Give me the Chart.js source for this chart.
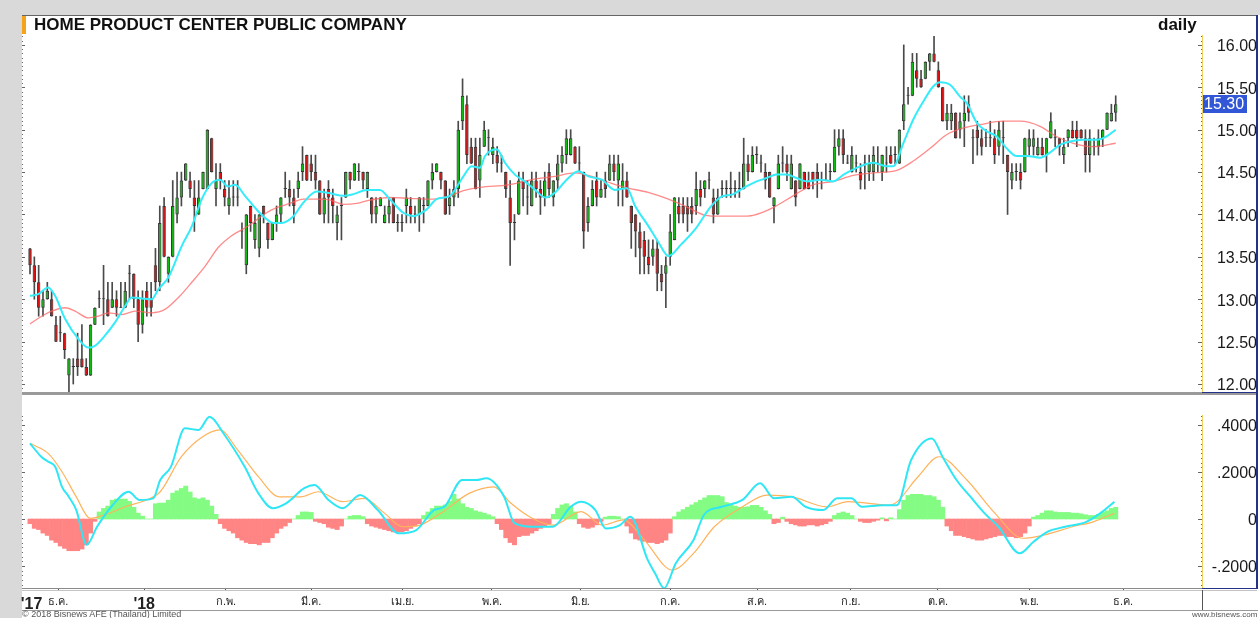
<!DOCTYPE html>
<html>
<head>
<meta charset="utf-8">
<script src="https://cdn.jsdelivr.net/npm/chart.js@4.4.0/dist/chart.umd.min.js"></script>
<style>
body { margin:0; background:#fff; font-family:"Liberation Sans", Arial, sans-serif; }
#page { position:relative; width:1260px; height:618px; overflow:hidden; background:#fff; }
.abs { position:absolute; }
</style>
</head>
<body>
<div id="page">
  <div class="abs" style="left:0;top:0;width:1260px;height:15px;background:#d9d9d9"></div>
  <div class="abs" style="left:0;top:0;width:22px;height:618px;background:#d9d9d9"></div>
  <div class="abs" style="left:22px;top:15px;width:1236px;height:1px;background:#666"></div>

  <canvas id="priceChart" class="abs" style="left:0;top:16px" width="1260" height="376"></canvas>
  <canvas id="macdChart" class="abs" style="left:0;top:396px" width="1260" height="214"></canvas>

  <!-- frame lines -->
  <div class="abs" style="left:22px;top:392px;width:1235px;height:3px;background:#9a9a9a"></div>
  <div class="abs" style="left:1202px;top:392px;width:55px;height:1px;background:#24318a"></div>
  <div class="abs" style="left:22px;top:588px;width:1235px;height:1px;background:#8a8a8a"></div>
  <div class="abs" style="left:22px;top:590px;width:1235px;height:1px;background:#c4c4c4"></div>
  <div class="abs" style="left:1202px;top:588px;width:55px;height:1px;background:#24318a"></div>
  <div class="abs" style="left:22px;top:610px;width:1236px;height:1px;background:#9a9a9a"></div>
  <div class="abs" style="left:1202px;top:590px;width:1px;height:20px;background:#555"></div>
  <div class="abs" style="left:1256px;top:15px;width:2px;height:574px;background:#24318a"></div>

  <div class="abs" style="left:22px;top:16px;width:4px;height:18px;background:#f5a31a"></div>
  <div class="abs" style="left:34px;top:16px;font-weight:bold;font-size:17px;line-height:17px;color:#111">HOME PRODUCT CENTER PUBLIC COMPANY</div>
  <div class="abs" style="left:1158px;top:16px;font-weight:bold;font-size:17px;line-height:17px;color:#111">daily</div>

  <div class="abs" style="left:22px;top:610px;font-size:9px;line-height:9px;color:#555">© 2018 Bisnews AFE (Thailand) Limited</div>
  <div class="abs" style="left:1192px;top:611px;font-size:8px;line-height:8px;color:#555">www.bisnews.com</div>
</div>

<script>
// daily candles, Nov 2017 - Nov 2018
const opens = [
  13.6,13.4,13.2,12.9,13.0,13.0,12.7,12.6,12.6,12.1,
  12.2,12.3,12.3,12.2,12.1,12.7,13.0,13.0,13.0,12.9,
  13.0,12.9,12.9,13.3,13.3,13.0,12.7,13.1,13.0,13.4,
  13.2,14.1,13.3,13.5,14.0,14.2,14.4,14.4,14.2,14.0,
  14.3,14.3,14.9,14.3,14.5,14.3,14.1,14.2,14.2,13.8,
  13.4,14.1,13.7,13.6,14.1,13.9,13.7,13.9,14.0,14.3,
  14.3,14.2,14.3,14.5,14.7,14.6,14.5,14.4,14.0,14.3,
  14.2,13.9,14.1,14.2,14.5,14.4,14.5,14.5,14.3,14.2,
  14.0,14.1,13.9,14.0,14.2,13.9,13.9,14.1,14.1,14.0,
  14.0,14.1,14.1,14.4,14.5,14.5,14.4,14.1,14.2,14.3,
  15.1,15.3,14.8,14.8,14.4,14.8,14.9,14.7,14.7,14.6,
  14.5,14.2,13.9,14.0,14.4,14.2,14.1,14.4,14.3,14.2,
  14.5,14.2,14.4,14.6,14.7,14.7,14.8,14.6,14.5,13.9,
  14.1,14.4,14.2,14.4,14.4,14.6,14.4,14.3,14.4,14.1,
  14.0,13.8,13.7,13.5,13.5,13.6,13.3,13.3,13.5,13.7,
  14.1,14.1,14.1,14.1,14.1,14.3,14.3,14.4,14.2,14.0,
  14.3,14.3,14.3,14.3,14.3,14.3,14.6,14.5,14.7,14.6,
  14.5,14.5,14.1,14.3,14.6,14.6,14.3,14.4,14.3,14.5,
  14.4,14.5,14.5,14.4,14.4,14.5,14.5,14.8,14.9,14.6,
  14.5,14.6,14.5,14.6,14.5,14.5,14.6,14.5,14.6,14.7,
  14.7,14.6,15.1,15.4,15.4,15.7,15.6,15.6,15.8,15.9,
  15.7,15.5,15.1,15.1,15.2,15.0,15.1,15.3,14.9,15.0,
  14.9,14.9,14.9,14.9,14.8,14.9,14.7,14.4,14.5,14.5,
  14.5,14.8,14.8,14.7,14.8,14.7,14.9,14.9,14.9,14.7,
  14.9,15.0,15.0,15.0,14.9,14.7,14.8,14.8,14.9,15.0,
  15.1,15.2
];
const highs = [
  13.6,13.5,13.4,13.1,13.2,13.1,12.8,12.8,12.6,12.3,
  12.3,12.6,12.7,12.3,12.7,12.9,13.1,13.4,13.2,13.2,
  13.1,13.2,13.2,13.4,13.3,13.1,13.1,13.2,13.2,13.6,
  14.1,14.2,13.5,14.4,14.5,14.5,14.6,14.5,14.4,14.4,
  14.5,15.0,14.9,14.6,14.6,14.4,14.4,14.4,14.4,13.9,
  14.0,14.1,14.0,14.0,14.1,13.9,13.9,14.1,14.2,14.5,
  14.4,14.3,14.5,14.8,14.7,14.7,14.7,14.4,14.3,14.4,
  14.3,14.1,14.2,14.5,14.5,14.6,14.6,14.5,14.5,14.2,
  14.2,14.2,14.1,14.2,14.2,14.0,14.0,14.3,14.2,14.1,
  14.2,14.2,14.4,14.6,14.6,14.5,14.4,14.3,14.4,15.1,
  15.6,15.4,14.9,14.9,14.9,15.1,15.0,14.9,14.8,14.7,
  14.5,14.4,14.0,14.5,14.5,14.4,14.5,14.5,14.4,14.5,
  14.6,14.4,14.7,14.8,15.0,15.0,14.8,14.8,14.5,14.2,
  14.4,14.5,14.4,14.5,14.7,14.7,14.7,14.6,14.5,14.1,
  14.0,13.9,13.8,13.7,13.7,13.7,13.4,13.5,14.0,14.2,
  14.2,14.2,14.2,14.2,14.5,14.4,14.4,14.5,14.3,14.3,
  14.4,14.4,14.5,14.4,14.5,14.9,14.7,14.8,14.8,14.7,
  14.6,14.5,14.2,14.7,14.8,14.7,14.7,14.4,14.6,14.5,
  14.5,14.5,14.6,14.5,14.6,14.6,15.0,15.0,15.0,14.7,
  14.8,14.7,14.6,14.7,14.7,14.8,14.8,14.7,14.8,14.8,
  14.8,15.0,16.0,15.5,15.9,15.9,15.7,15.8,15.9,16.1,
  15.8,15.5,15.3,15.3,15.2,15.2,15.4,15.4,15.0,15.1,
  15.0,15.0,15.1,15.0,15.1,15.1,14.7,14.6,14.6,14.6,
  14.9,15.0,15.0,14.9,14.9,14.9,15.2,15.0,14.9,14.9,
  15.0,15.1,15.1,15.0,15.0,15.0,14.9,15.0,15.0,15.2,
  15.3,15.4
];
const lows = [
  13.3,13.0,12.8,12.8,13.0,12.8,12.5,12.5,12.3,11.9,
  12.0,12.1,12.2,12.1,12.1,12.7,12.9,12.7,12.8,12.9,
  12.8,12.9,12.9,13.0,12.9,12.5,12.6,12.8,12.8,13.1,
  13.1,13.5,13.2,13.5,13.9,14.1,14.4,14.2,13.8,14.0,
  14.3,14.3,14.5,14.1,14.3,14.1,14.0,14.1,14.1,13.6,
  13.3,13.8,13.6,13.5,13.9,13.6,13.7,13.8,13.9,14.2,
  14.1,13.9,14.2,14.4,14.4,14.4,14.3,14.0,13.9,13.9,
  13.9,13.7,13.7,14.2,14.3,14.4,14.4,14.3,14.2,13.9,
  13.9,14.1,13.9,13.9,13.9,13.8,13.8,13.9,13.9,13.9,
  13.8,13.9,14.1,14.3,14.5,14.3,14.0,14.0,14.1,14.2,
  15.0,14.6,14.6,14.3,14.2,14.8,14.7,14.6,14.5,14.5,
  14.2,13.4,13.7,14.0,14.1,14.0,14.1,14.2,14.0,14.1,
  14.2,14.1,14.3,14.5,14.6,14.7,14.6,14.5,13.6,13.8,
  14.1,14.1,14.2,14.2,14.4,14.4,14.1,14.1,14.2,13.6,
  13.5,13.3,13.3,13.3,13.4,13.1,13.1,12.9,13.4,13.7,
  13.9,13.9,13.8,13.9,14.0,14.1,14.2,14.3,13.9,14.0,
  14.2,14.2,14.2,14.2,14.2,14.3,14.4,14.5,14.6,14.5,
  14.3,14.2,13.9,14.3,14.5,14.4,14.3,14.1,14.3,14.3,
  14.3,14.3,14.2,14.3,14.4,14.4,14.5,14.7,14.6,14.6,
  14.5,14.5,14.3,14.3,14.4,14.4,14.5,14.4,14.5,14.6,
  14.6,14.6,15.0,15.3,15.4,15.5,15.5,15.6,15.7,15.8,
  15.5,15.1,15.0,15.0,14.9,14.9,14.8,15.1,14.6,14.7,
  14.7,14.8,14.8,14.6,14.7,14.6,14.0,14.3,14.4,14.3,
  14.5,14.7,14.7,14.7,14.7,14.5,14.9,14.8,14.7,14.6,
  14.8,14.9,14.8,14.9,14.5,14.5,14.7,14.7,14.8,15.0,
  15.1,15.1
];
const closes = [
  13.4,13.2,12.9,13.0,13.1,12.8,12.5,12.6,12.4,12.3,
  12.2,12.2,12.2,12.1,12.7,12.9,13.0,13.0,12.8,13.0,
  12.9,12.9,13.1,13.3,13.0,12.7,13.0,12.9,12.9,13.2,
  13.9,13.5,13.5,14.1,14.2,14.4,14.6,14.3,14.1,14.2,
  14.5,15.0,14.5,14.4,14.4,14.2,14.2,14.2,14.2,13.8,
  14.0,13.9,13.9,14.0,14.0,13.7,13.9,14.0,14.2,14.3,
  14.2,14.1,14.4,14.6,14.4,14.5,14.4,14.0,14.2,14.2,
  14.1,14.0,14.1,14.5,14.4,14.6,14.5,14.4,14.5,14.0,
  14.1,14.2,14.0,14.1,13.9,13.9,13.9,14.2,14.0,14.0,
  14.2,14.1,14.4,14.5,14.6,14.4,14.0,14.2,14.3,15.0,
  15.4,14.7,14.6,14.3,14.7,15.0,14.9,14.8,14.6,14.6,
  14.3,13.9,13.9,14.4,14.3,14.2,14.4,14.3,14.2,14.4,
  14.3,14.4,14.6,14.7,14.9,14.9,14.6,14.6,13.8,14.1,
  14.3,14.2,14.3,14.3,14.6,14.5,14.6,14.4,14.2,13.9,
  13.8,13.6,13.5,13.4,13.6,13.3,13.2,13.4,13.8,14.2,
  14.0,14.0,14.0,14.0,14.3,14.2,14.4,14.4,14.0,14.2,
  14.3,14.3,14.3,14.3,14.3,14.6,14.5,14.7,14.7,14.6,
  14.4,14.2,14.2,14.6,14.6,14.5,14.6,14.2,14.6,14.3,
  14.3,14.4,14.4,14.4,14.4,14.5,14.8,14.9,14.7,14.6,
  14.7,14.6,14.4,14.6,14.6,14.7,14.6,14.7,14.6,14.6,
  14.7,15.0,15.3,15.4,15.8,15.6,15.5,15.8,15.9,15.8,
  15.5,15.1,15.2,15.2,14.9,15.1,15.2,15.2,14.9,14.9,
  14.8,14.9,14.9,14.7,15.0,14.9,14.5,14.5,14.5,14.4,
  14.9,14.9,14.9,14.8,14.7,14.9,15.1,14.9,14.8,14.8,
  15.0,14.9,14.9,14.9,14.7,14.9,14.8,14.9,15.0,15.2,
  15.2,15.3
];

// moving averages (x = candle index)
const fastMaIdx = [0,1.9,4.2,5.8,8.1,11.2,13.5,15,17.3,19.7,22,23.5,25.8,28.1,29.7,32,35.1,37.4,39.7,42,43.9,45.8,47.4,49.7,52,53.9,56.3,58.2,60.9,63.2,66.3,69.4,72.4,74.8,77.9,80.9,83.2,86.3,88.6,91.7,94,97.1,100.2,102.1,104,105.2,107.9,109.8,112.1,114.4,116.8,119.1,121.4,123.7,126.8,129.1,132.2,135.2,138,139.9,143,145.3,147.6,150.6,153.7,156.1,157.2,159.5,162.6,164.9,168,170.3,172.6,174.9,177.2,179.6,182.7,185.7,188.1,191.1,195,198,199.6,201.9,204.2,206.5,208.8,210.4,212.7,215,216.6,218.9,221.2,223.5,225.8,228.1,230.4,233.5,235.8,238.1,240.4,243.5,246.6,248.9,251];
const fastMaVal = [13.04,13.06,13.14,13.04,12.77,12.53,12.43,12.45,12.57,12.73,12.92,13.02,13.01,13.0,13.12,13.26,13.63,13.86,14.18,14.37,14.41,14.33,14.35,14.22,14.08,13.98,13.9,13.9,13.98,14.14,14.27,14.25,14.22,14.24,14.29,14.29,14.18,14.02,13.98,14.06,14.18,14.22,14.45,14.57,14.55,14.69,14.77,14.61,14.47,14.39,14.29,14.2,14.26,14.39,14.51,14.45,14.41,14.29,14.31,14.1,13.86,13.67,13.51,13.65,13.82,14.0,14.08,14.2,14.24,14.31,14.39,14.43,14.47,14.47,14.43,14.39,14.41,14.39,14.47,14.55,14.61,14.57,14.57,14.84,15.12,15.33,15.51,15.56,15.53,15.39,15.31,15.08,14.98,14.92,14.78,14.69,14.69,14.67,14.73,14.82,14.86,14.88,14.88,14.92,15.0];
const slowMaIdx = [0,2.7,5,8.1,10.4,13.5,15.8,18.1,21.2,24.3,28.1,31.2,34.3,37.4,40.5,43.5,46.6,49.7,52,54,57,60.1,63.2,66.3,69.4,72.4,75.5,78.6,83.2,87.8,92.5,97.1,100.2,104,110.6,116,121.4,126,129.1,133.7,137.5,142.9,147.6,152.2,156.1,159.5,164.1,167.2,171.8,176.4,181,185.7,190.3,195,200.4,204.2,208.1,211.9,215.8,219.6,225,228.9,233.5,237.3,241.2,245.8,251];
const slowMaVal = [12.71,12.8,12.86,12.9,12.86,12.78,12.8,12.84,12.82,12.86,12.84,12.88,13.02,13.2,13.39,13.61,13.75,13.84,13.92,14.0,14.08,14.13,14.18,14.18,14.17,14.12,14.13,14.17,14.2,14.19,14.18,14.22,14.28,14.32,14.35,14.41,14.45,14.49,14.46,14.38,14.32,14.26,14.18,14.08,13.99,13.98,13.98,13.99,14.08,14.22,14.35,14.39,14.46,14.49,14.52,14.63,14.78,14.94,15.02,15.06,15.1,15.1,15.04,14.92,14.84,14.8,14.84];

// MACD panel
const macdIdx = [0,2.6,4.2,5.8,7.4,9.0,10.7,13.1,15.5,18.8,22.8,25.3,28.5,30.1,32.6,35.8,39,41.5,44.7,49.6,52.8,56.1,59.3,63.4,65.8,69,72.3,76.3,80.4,85.3,89.3,93.4,95.8,99.9,103.1,105.5,109.6,112,116.1,120.9,125,127.4,130.7,133.1,136.4,138.8,142.8,144.5,146.6,149.3,153.4,155.8,159.9,164.7,168.8,172,176.1,179.3,183.4,186.6,189.9,192.3,197.2,200.4,203.7,208.5,211,214.2,217.4,220.7,223.9,228.8,232,235.3,239.3,244.2,247.4,250.7];
const macdVal = [0.322,0.265,0.244,0.223,0.137,0.094,0.038,-0.11,-0.033,0.052,0.116,0.081,0.088,0.166,0.223,0.386,0.379,0.435,0.365,0.223,0.109,0.046,0.068,0.131,0.145,0.081,0.046,0.102,0.038,-0.061,-0.047,0.038,0.052,0.166,0.166,0.173,0.095,-0.018,-0.033,-0.033,0.052,0.073,0.038,-0.04,-0.026,0.01,-0.174,-0.231,-0.295,-0.188,-0.089,0.017,0.052,0.081,0.152,0.088,0.095,0.052,0.038,0.088,0.088,0.052,0.059,0.059,0.251,0.343,0.264,0.166,0.095,0.024,-0.033,-0.146,-0.097,-0.054,-0.033,-0.012,0.024,0.073];
const signalIdx = [0,4.2,7.4,10.7,13.9,17.2,22,26.9,30.1,35,39.9,43.9,48,52.8,57.7,62.6,66.6,72.3,77.2,82,86.1,90.1,95,101.5,107.2,111.2,116.1,120.9,127.4,132.3,137.2,142,148.5,153.4,158.2,164.7,170.4,176.1,184.2,189.1,198.8,205.3,210.1,216.6,223.1,229.6,234.5,241,245.8,250.7];
const signalVal = [0.322,0.279,0.201,0.094,0.003,0.017,0.052,0.081,0.116,0.265,0.35,0.379,0.294,0.18,0.094,0.094,0.116,0.074,0.088,0.024,-0.033,-0.026,0.024,0.109,0.137,0.067,0.003,-0.026,0.031,-0.026,-0.004,-0.089,-0.217,-0.146,-0.033,0.052,0.102,0.095,0.052,0.074,0.059,0.18,0.265,0.166,0.024,-0.082,-0.068,-0.033,-0.012,0.024];
const histVal = [
  -0.02,-0.04,-0.045,-0.06,-0.07,-0.09,-0.1,-0.115,-0.125,-0.135,
  -0.135,-0.135,-0.128,-0.11,-0.06,-0.01,0.03,0.045,0.055,0.08,
  0.085,0.085,0.085,0.075,0.05,0.025,0.012,0,0,0.065,
  0.068,0.068,0.08,0.11,0.12,0.13,0.14,0.115,0.09,0.085,
  0.09,0.08,0.055,0.02,-0.02,-0.04,-0.05,-0.06,-0.08,-0.09,
  -0.1,-0.105,-0.105,-0.11,-0.1,-0.1,-0.08,-0.06,-0.04,-0.03,
  -0.015,0,0.015,0.03,0.03,0.028,-0.01,-0.015,-0.02,-0.035,
  -0.04,-0.045,-0.03,0,0.012,0.015,0.015,0.01,-0.02,-0.03,
  -0.035,-0.04,-0.045,-0.05,-0.055,-0.055,-0.055,-0.05,-0.04,-0.03,
  -0.02,0.015,0.03,0.045,0.055,0.055,0.06,0.075,0.105,0.085,
  0.065,0.05,0.045,0.035,0.03,0.025,0.018,0.01,-0.02,-0.045,
  -0.08,-0.1,-0.11,-0.075,-0.07,-0.07,-0.06,-0.05,-0.04,-0.03,
  -0.02,0.02,0.045,0.06,0.065,0.055,0.03,-0.02,-0.035,-0.04,
  -0.035,-0.025,-0.01,0.008,0.012,0.012,0.01,0,-0.03,-0.06,
  -0.085,-0.09,-0.095,-0.1,-0.1,-0.105,-0.1,-0.09,-0.06,0.01,
  0.03,0.04,0.05,0.06,0.07,0.08,0.09,0.1,0.1,0.1,
  0.095,0.07,0.065,0.055,0.05,0.05,0.052,0.058,0.058,0.05,
  0.035,0.02,-0.02,-0.015,0.008,-0.01,-0.02,-0.025,-0.03,-0.03,
  -0.025,-0.025,-0.03,-0.025,-0.02,-0.01,0.015,0.025,0.03,0.025,
  0.015,0,-0.01,-0.015,-0.015,-0.01,-0.005,0.005,-0.008,0.005,
  0,0.04,0.08,0.1,0.105,0.105,0.105,0.1,0.1,0.095,
  0.08,0.05,-0.03,-0.05,-0.07,-0.07,-0.075,-0.08,-0.085,-0.09,
  -0.09,-0.085,-0.08,-0.075,-0.07,-0.07,-0.075,-0.075,-0.08,-0.075,
  -0.06,-0.03,0.008,0.015,0.025,0.035,0.035,0.03,0.028,0.028,
  0.028,0.025,0.025,0.022,0.018,0.015,0.015,0.02,0.03,0.035,
  0.045,0.05
];

// axes
const priceTicks = [12, 12.5, 13, 13.5, 14, 14.5, 15, 15.5, 16];
const macdTicks = [-0.2, 0, 0.2, 0.4];
const monthLabels = ["'17", 'ธ.ค.', "'18", 'ก.พ.', 'มี.ค.', 'เม.ย.', 'พ.ค.', 'มิ.ย.', 'ก.ค.', 'ส.ค.', 'ก.ย.', 'ต.ค.', 'พ.ย.', 'ธ.ค.'];
const monthIdx = [0.35, 6.5, 26.4, 45.3, 65.0, 86.2, 106.8, 127.2, 148.0, 168.1, 189.8, 209.9, 231.0, 252.7];

const xMin = -1.39, xMax = 270.95;
const FONT = '"Liberation Sans", Arial, sans-serif';

function toPoints(xs, ys) {
  return xs.map((x, i) => ({ x: x, y: ys[i] }));
}

function candleColor(i) {
  if (closes[i] > opens[i]) return '#12b812';
  if (closes[i] < opens[i]) return '#dc1010';
  return '#333';
}

// fixed axis box, no extra padding for the end labels
function fitRightAxis(s) {
  s.width = 55;
  s.paddingTop = 0;
  s.paddingBottom = 0;
}

// yellow axis line with small dotted ticks on both plot edges
const axisDecor = {
  id: 'axisDecor',
  afterDraw(chart, args, opts) {
    const ctx = chart.ctx;
    const a = chart.chartArea;
    const ys = chart.scales.y;
    const xr = Math.round(a.right) + 0.5;
    ctx.save();
    ctx.strokeStyle = '#f0cf5a';
    ctx.lineWidth = 1;
    ctx.beginPath();
    ctx.moveTo(xr, opts.lineTop);
    ctx.lineTo(xr, a.bottom);
    ctx.stroke();

    ctx.fillStyle = '#666';
    const k0 = Math.ceil(ys.min / opts.step);
    const k1 = Math.floor(ys.max / opts.step);
    for (let k = k0; k <= k1; k++) {
      const y = Math.round(ys.getPixelForValue(k * opts.step));
      if (y < opts.lineTop) continue;
      const len = (k % opts.major === 0) ? 4 : 1;
      ctx.fillRect(xr - 0.5 - len, y, len, 1);
      ctx.fillRect(a.left - 2, y, len > 1 ? 3 : 1, 1);
    }
    ctx.restore();
  }
};

// blue tag with the last close
const lastTag = {
  id: 'lastTag',
  afterDraw(chart) {
    const ctx = chart.ctx;
    const last = closes[closes.length - 1];
    const y = Math.round(chart.scales.y.getPixelForValue(last));
    const x = Math.round(chart.chartArea.right) + 1;
    ctx.save();
    ctx.fillStyle = '#3157d6';
    ctx.fillRect(x, y - 9, 44, 18);
    ctx.fillStyle = '#fff';
    ctx.font = '16px ' + FONT;
    ctx.textAlign = 'left';
    ctx.textBaseline = 'middle';
    ctx.fillText(last.toFixed(2), x + 1, y + 1);
    ctx.restore();
  }
};

const candleIdx = opens.map((o, i) => i);

new Chart(document.getElementById('priceChart'), {
  type: 'bar',
  data: {
    datasets: [
      {
        type: 'line', label: 'MA fast', data: toPoints(fastMaIdx, fastMaVal),
        borderColor: '#35ecfa', borderWidth: 2, pointRadius: 0, cubicInterpolationMode: 'monotone', order: 0
      },
      {
        type: 'line', label: 'MA slow', data: toPoints(slowMaIdx, slowMaVal),
        borderColor: 'rgba(255,100,100,0.75)', borderWidth: 1.3, pointRadius: 0, cubicInterpolationMode: 'monotone', order: 1
      },
      {
        type: 'bar', label: 'body', data: candleIdx.map(i => ({ x: i, y: [opens[i], closes[i]] })),
        backgroundColor: candleIdx.map(candleColor), borderColor: '#363636', borderWidth: 1, borderSkipped: false,
        grouped: false, barPercentage: 0.8, categoryPercentage: 1, minBarLength: 1, order: 2
      },
      {
        type: 'bar', label: 'wick', data: candleIdx.map(i => ({ x: i, y: [lows[i], highs[i]] })),
        backgroundColor: '#4a4a4a', barThickness: 1, grouped: false, order: 3
      }
    ]
  },
  options: {
    responsive: false,
    animation: false,
    layout: { padding: { left: 24, right: 3, top: 0, bottom: 0 } },
    plugins: { legend: { display: false }, tooltip: { enabled: false }, axisDecor: { lineTop: 19, step: 0.05, major: 10 } },
    scales: {
      x: { type: 'linear', min: xMin, max: xMax, offset: false, display: false },
      y: {
        position: 'right', min: 11.906, max: 16.341,
        grid: { display: false }, border: { display: false },
        afterFit: fitRightAxis,
        afterBuildTicks: s => { s.ticks = priceTicks.map(v => ({ value: v })); },
        ticks: { crossAlign: 'far', padding: 0, labelOffset: 2, color: '#1a1a1a', font: { family: FONT, size: 16 }, callback: v => v.toFixed(2) }
      }
    }
  },
  plugins: [axisDecor, lastTag]
});

new Chart(document.getElementById('macdChart'), {
  type: 'bar',
  data: {
    datasets: [
      {
        type: 'line', label: 'MACD', data: toPoints(macdIdx, macdVal),
        borderColor: '#2fe6f5', borderWidth: 2, pointRadius: 0, cubicInterpolationMode: 'monotone', order: 0
      },
      {
        type: 'line', label: 'Signal', data: toPoints(signalIdx, signalVal),
        borderColor: '#ffb35c', borderWidth: 1.2, pointRadius: 0, cubicInterpolationMode: 'monotone', order: 1
      },
      {
        type: 'bar', label: 'Histogram', data: histVal.map((v, i) => ({ x: i, y: v })),
        backgroundColor: histVal.map(v => v >= 0 ? '#84fc84' : '#ff8585'),
        barPercentage: 1, categoryPercentage: 1, grouped: false, order: 2
      }
    ]
  },
  options: {
    responsive: false,
    animation: false,
    layout: { padding: { left: 24, right: 3, top: 0, bottom: 0 } },
    plugins: { legend: { display: false }, tooltip: { enabled: false }, axisDecor: { lineTop: 19, step: 0.02, major: 10 } },
    scales: {
      x: {
        type: 'linear', min: xMin, max: xMax, offset: false,
        afterBuildTicks: s => { s.ticks = monthIdx.map(v => ({ value: v })); },
        afterFit: s => { s.height = 22; s.paddingLeft = 0; s.paddingRight = 0; },
        grid: {
          display: true, drawOnChartArea: false, drawTicks: true, tickLength: 3, offset: false,
          color: c => (c.index === 0 ? 'rgba(0,0,0,0)' : '#555')
        },
        border: { display: false },
        ticks: {
          autoSkip: false, maxRotation: 0, padding: 4, color: '#222',
          callback: (v, i) => monthLabels[i],
          font: c => (monthLabels[c.index] && monthLabels[c.index][0] === "'")
            ? { family: FONT, size: 16, weight: 'bold' }
            : { family: FONT, size: 11 }
        }
      },
      y: {
        position: 'right', min: -0.2936, max: 0.5234,
        grid: { display: false }, border: { display: false },
        afterFit: fitRightAxis,
        afterBuildTicks: s => { s.ticks = macdTicks.map(v => ({ value: v })); },
        ticks: {
          crossAlign: 'far', padding: 0, labelOffset: 2, color: '#1a1a1a', font: { family: FONT, size: 16 },
          callback: v => v === 0 ? '0' : (v < 0 ? '-' : '') + Math.abs(v).toFixed(4).replace(/^0/, '')
        }
      }
    }
  },
  plugins: [axisDecor]
});
</script>
</body>
</html>
